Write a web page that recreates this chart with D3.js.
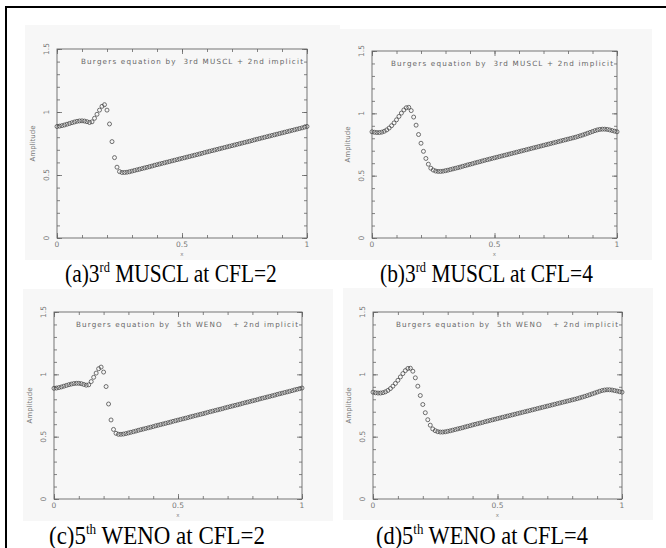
<!DOCTYPE html>
<html>
<head>
<meta charset="utf-8">
<script src="https://cdn.jsdelivr.net/npm/d3@7"></script>
<style>
  body { margin: 0; background: #fff; }
  svg { display: block; }
</style>
</head>
<body>
<svg id="fig" width="666" height="548"></svg>
<script>
// grid points (x) shared by all four runs
const xGrid = [
  0, 0.01, 0.02, 0.03, 0.04, 0.05, 0.06, 0.07, 0.08, 0.09,
  0.1, 0.11, 0.12, 0.13, 0.14, 0.15, 0.16, 0.17, 0.18, 0.19,
  0.2, 0.21, 0.22, 0.23, 0.24, 0.25, 0.26, 0.27, 0.28, 0.29,
  0.3, 0.31, 0.32, 0.33, 0.34, 0.35, 0.36, 0.37, 0.38, 0.39,
  0.4, 0.41, 0.42, 0.43, 0.44, 0.45, 0.46, 0.47, 0.48, 0.49,
  0.5, 0.51, 0.52, 0.53, 0.54, 0.55, 0.56, 0.57, 0.58, 0.59,
  0.6, 0.61, 0.62, 0.63, 0.64, 0.65, 0.66, 0.67, 0.68, 0.69,
  0.7, 0.71, 0.72, 0.73, 0.74, 0.75, 0.76, 0.77, 0.78, 0.79,
  0.8, 0.81, 0.82, 0.83, 0.84, 0.85, 0.86, 0.87, 0.88, 0.89,
  0.9, 0.91, 0.92, 0.93, 0.94, 0.95, 0.96, 0.97, 0.98, 0.99,
  1
];

// (a) 3rd MUSCL, CFL=2
const muscl2 = [
  0.885, 0.888, 0.892, 0.897, 0.903, 0.909, 0.915, 0.921, 0.926, 0.929,
  0.930, 0.928, 0.923, 0.917, 0.922, 0.950, 0.982, 1.015, 1.045, 1.058,
  1.015, 0.905, 0.765, 0.638, 0.562, 0.527, 0.520, 0.520, 0.522, 0.526,
  0.531, 0.536, 0.541, 0.546, 0.551, 0.556, 0.561, 0.566, 0.571, 0.577,
  0.582, 0.587, 0.592, 0.597, 0.602, 0.607, 0.612, 0.617, 0.622, 0.627,
  0.632, 0.637, 0.642, 0.647, 0.652, 0.657, 0.662, 0.667, 0.672, 0.678,
  0.683, 0.688, 0.693, 0.698, 0.703, 0.708, 0.713, 0.718, 0.723, 0.728,
  0.733, 0.738, 0.743, 0.748, 0.753, 0.758, 0.763, 0.768, 0.773, 0.779,
  0.784, 0.789, 0.794, 0.799, 0.804, 0.809, 0.814, 0.819, 0.824, 0.829,
  0.834, 0.839, 0.844, 0.849, 0.854, 0.859, 0.864, 0.869, 0.874, 0.880,
  0.885
];

// (b) 3rd MUSCL, CFL=4
const muscl4 = [
  0.852, 0.848, 0.846, 0.846, 0.849, 0.856, 0.867, 0.882, 0.901, 0.923,
  0.948, 0.975, 1.002, 1.027, 1.045, 1.048, 1.022, 0.970, 0.905, 0.830,
  0.760, 0.695, 0.638, 0.592, 0.560, 0.545, 0.537, 0.534, 0.534, 0.536,
  0.540, 0.544, 0.549, 0.554, 0.559, 0.564, 0.569, 0.575, 0.580, 0.586,
  0.591, 0.596, 0.602, 0.607, 0.612, 0.618, 0.623, 0.628, 0.633, 0.638,
  0.643, 0.648, 0.653, 0.658, 0.663, 0.668, 0.673, 0.678, 0.683, 0.688,
  0.693, 0.698, 0.703, 0.708, 0.713, 0.718, 0.723, 0.728, 0.733, 0.738,
  0.743, 0.748, 0.753, 0.758, 0.763, 0.768, 0.773, 0.778, 0.783, 0.788,
  0.793, 0.798, 0.803, 0.808, 0.814, 0.820, 0.826, 0.833, 0.840, 0.847,
  0.854, 0.861, 0.867, 0.871, 0.873, 0.873, 0.871, 0.867, 0.862, 0.857,
  0.852
];

// (c) 5th WENO, CFL=2
const weno2 = [
  0.888, 0.890, 0.894, 0.899, 0.905, 0.911, 0.917, 0.922, 0.926, 0.928,
  0.928, 0.925, 0.919, 0.913, 0.916, 0.942, 0.976, 1.010, 1.045, 1.058,
  1.018, 0.902, 0.762, 0.634, 0.558, 0.527, 0.519, 0.519, 0.521, 0.525,
  0.530, 0.535, 0.540, 0.545, 0.551, 0.556, 0.561, 0.566, 0.571, 0.576,
  0.581, 0.587, 0.592, 0.597, 0.602, 0.607, 0.612, 0.617, 0.623, 0.628,
  0.633, 0.638, 0.643, 0.648, 0.653, 0.659, 0.664, 0.669, 0.674, 0.679,
  0.684, 0.689, 0.695, 0.700, 0.705, 0.710, 0.715, 0.720, 0.725, 0.731,
  0.736, 0.741, 0.746, 0.751, 0.756, 0.761, 0.767, 0.772, 0.777, 0.782,
  0.787, 0.792, 0.797, 0.803, 0.808, 0.813, 0.818, 0.823, 0.828, 0.833,
  0.839, 0.844, 0.849, 0.854, 0.859, 0.864, 0.869, 0.875, 0.880, 0.885,
  0.890
];

// (d) 5th WENO, CFL=4
const weno4 = [
  0.857, 0.852, 0.850, 0.850, 0.853, 0.860, 0.871, 0.886, 0.905, 0.927,
  0.952, 0.979, 1.006, 1.030, 1.047, 1.049, 1.025, 0.972, 0.905, 0.830,
  0.758, 0.692, 0.636, 0.592, 0.562, 0.548, 0.540, 0.537, 0.537, 0.539,
  0.543, 0.547, 0.552, 0.557, 0.562, 0.567, 0.572, 0.578, 0.583, 0.588,
  0.594, 0.599, 0.604, 0.609, 0.614, 0.620, 0.625, 0.630, 0.635, 0.640,
  0.645, 0.650, 0.655, 0.660, 0.665, 0.670, 0.675, 0.680, 0.685, 0.690,
  0.695, 0.700, 0.705, 0.710, 0.715, 0.720, 0.725, 0.730, 0.735, 0.740,
  0.745, 0.750, 0.755, 0.760, 0.765, 0.770, 0.775, 0.780, 0.785, 0.790,
  0.795, 0.800, 0.805, 0.811, 0.817, 0.823, 0.829, 0.836, 0.843, 0.850,
  0.857, 0.864, 0.870, 0.874, 0.876, 0.876, 0.874, 0.870, 0.866, 0.861,
  0.857
];

const xTickLabels = ["0", "0.5", "1"];
const yTickLabels = ["0", "0.5", "1", "1.5"];
const titles = [
  "Burgers equation by  3rd MUSCL + 2nd implicit",
  "Burgers equation by  3rd MUSCL + 2nd implicit",
  "Burgers equation by  5th WENO   + 2nd implicit",
  "Burgers equation by  5th WENO   + 2nd implicit"
];
const capHead = ["(a)3", "(b)3", "(c)5", "(d)5"];
const capSup = ["rd", "rd", "th", "th"];
const capTail = [" MUSCL at CFL=2", " MUSCL at CFL=4", " WENO at CFL=2", " WENO at CFL=4"];
const series = [muscl2, muscl4, weno2, weno4];

// page layout: background box, plot frame, caption box
const layout = [
  { bg: [25, 25, 340, 260], plot: [57, 49, 307, 238], cap: [65, 282, 212] },
  { bg: [340, 29, 652, 260], plot: [372, 51, 617, 238], cap: [380, 282, 213] },
  { bg: [23, 289, 333, 521], plot: [54, 312, 302, 499], cap: [49, 544, 216] },
  { bg: [343, 288, 653, 520], plot: [373, 312, 622, 499], cap: [376, 544, 212] }
];

const svg = d3.select("#fig");

// outer frame (top and left rules)
svg.append("line").attr("x1", 6).attr("y1", 7).attr("x2", 666).attr("y2", 7)
  .attr("stroke", "#000").attr("stroke-width", 2);
svg.append("line").attr("x1", 6).attr("y1", 6).attr("x2", 6).attr("y2", 548)
  .attr("stroke", "#000").attr("stroke-width", 2);

const minorX = d3.range(0, 11).map((i) => i / 10);
const minorY = d3.range(0, 16).map((i) => i / 10);
const majorX = [0, 0.5, 1];
const majorY = [0, 0.5, 1, 1.5];

layout.forEach((p, k) => {
  const [L, T, R, B] = p.plot;
  const g = svg.append("g");

  g.append("rect")
    .attr("x", p.bg[0]).attr("y", p.bg[1])
    .attr("width", p.bg[2] - p.bg[0]).attr("height", p.bg[3] - p.bg[1])
    .attr("fill", "#f7f7f7");

  const x = d3.scaleLinear().domain([0, 1]).range([L, R]);
  const y = d3.scaleLinear().domain([0, 1.5]).range([B, T]);

  // inward ticks on all four sides
  const tickAxes = [
    [d3.axisBottom(x), `translate(0,${B})`, minorX, majorX],
    [d3.axisTop(x), `translate(0,${T})`, minorX, majorX],
    [d3.axisLeft(y), `translate(${L},0)`, minorY, majorY],
    [d3.axisRight(y), `translate(${R},0)`, minorY, majorY]
  ];
  tickAxes.forEach(([ax, tr, minor, major]) => {
    const a1 = g.append("g").attr("transform", tr)
      .call(ax.tickValues(minor).tickSize(-3).tickFormat(""));
    a1.select(".domain").remove();
    a1.selectAll("line").attr("stroke", "#666").attr("stroke-width", 0.8);
    const a2 = g.append("g").attr("transform", tr)
      .call(ax.tickValues(major).tickSize(-5).tickFormat(""));
    a2.select(".domain").remove();
    a2.selectAll("line").attr("stroke", "#666").attr("stroke-width", 0.8);
  });

  g.append("rect")
    .attr("x", L).attr("y", T).attr("width", R - L).attr("height", B - T)
    .attr("fill", "none").attr("stroke", "#666").attr("stroke-width", 0.9);

  // tick labels
  g.selectAll(".xl").data(majorX).enter().append("text")
    .attr("x", (d) => x(d)).attr("y", B + 9)
    .attr("text-anchor", "middle")
    .attr("font-family", "DejaVu Sans").attr("font-size", 7.5).attr("fill", "#777")
    .text((d, i) => xTickLabels[i]);

  g.selectAll(".yl").data(majorY).enter().append("text")
    .attr("transform", (d) => `translate(${L - 8},${y(d)}) rotate(-90)`)
    .attr("text-anchor", "middle")
    .attr("font-family", "DejaVu Sans").attr("font-size", 7.5).attr("fill", "#777")
    .text((d, i) => yTickLabels[i]);

  g.append("text")
    .attr("transform", `translate(${L - 22},${(T + B) / 2}) rotate(-90)`)
    .attr("text-anchor", "middle")
    .attr("font-family", "DejaVu Sans").attr("font-size", 7).attr("fill", "#777")
    .text("Amplitude");

  g.append("text")
    .attr("x", (L + R) / 2).attr("y", B + 18)
    .attr("text-anchor", "middle")
    .attr("font-family", "DejaVu Sans").attr("font-size", 5.5).attr("fill", "#888")
    .text("x");

  g.append("text")
    .attr("x", R - 226).attr("y", T + 15)
    .attr("textLength", 222).attr("lengthAdjust", "spacing")
    .attr("font-family", "DejaVu Sans").attr("font-size", 7.2).attr("fill", "#666")
    .attr("xml:space", "preserve").style("white-space", "pre")
    .text(titles[k]);

  // computed points
  g.selectAll(".pt").data(series[k]).enter().append("circle")
    .attr("cx", (d, i) => x(xGrid[i]))
    .attr("cy", (d) => y(d))
    .attr("r", 2)
    .attr("fill", "none")
    .attr("stroke", "#444")
    .attr("stroke-width", 0.75);

  // caption under the panel, squeezed to the measured width
  const [cx0, cy0, cw] = p.cap;
  const cap = svg.append("text")
    .attr("font-family", "Liberation Serif, Times New Roman, serif")
    .attr("font-size", 26).attr("fill", "#000");
  cap.append("tspan").text(capHead[k]);
  cap.append("tspan").attr("font-size", 15).attr("dy", -10).text(capSup[k]);
  cap.append("tspan").attr("dy", 10).style("white-space", "pre").text(capTail[k]);
  const w = cap.node().getBBox().width;
  cap.attr("transform", `translate(${cx0},${cy0}) scale(${cw / w},1)`);
});
</script>
</body>
</html>
